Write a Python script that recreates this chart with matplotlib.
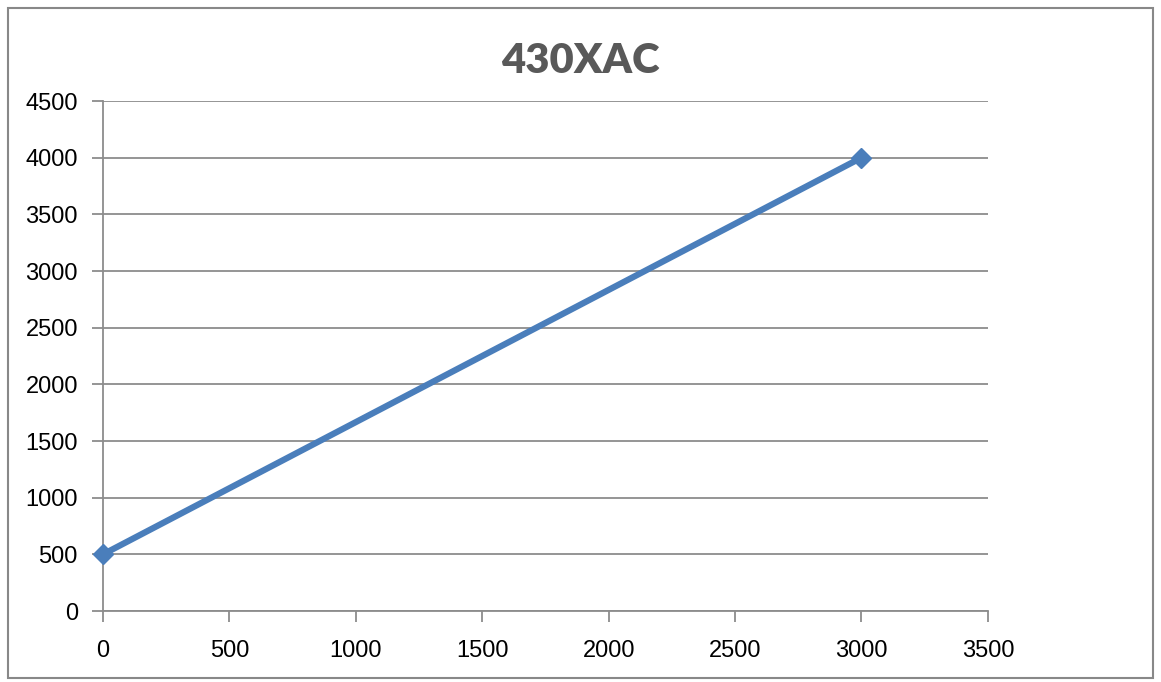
import matplotlib
matplotlib.use('Agg')
import matplotlib.pyplot as plt
from matplotlib.patches import Rectangle

x_vals = [0, 3000]
y_vals = [500, 4000]
x_ticks = [0, 500, 1000, 1500, 2000, 2500, 3000, 3500]
y_ticks = [0, 500, 1000, 1500, 2000, 2500, 3000, 3500, 4000, 4500]

plt.rcParams['font.family'] = ['Liberation Sans', 'DejaVu Sans']

fig = plt.figure(figsize=(11.61, 6.82), dpi=100)
ax = fig.add_axes([0.0887, 0.1041, 0.7622, 0.7478])

# outer frame of the chart
fig.patches.append(Rectangle((0.007, 0.006), 0.986, 0.982, transform=fig.transFigure,
                             fill=False, edgecolor='#888888', linewidth=1.5))

ax.plot(x_vals, y_vals, color='#4a7ebb', linewidth=4.5, marker='D',
        markersize=10, solid_capstyle='butt', zorder=3, clip_on=False)

ax.set_xlim(0, 3500)
ax.set_ylim(0, 4500)
ax.set_xticks(x_ticks)
ax.set_yticks(y_ticks)
ax.grid(axis='y', color='#8c8c8c', linewidth=1.3)
ax.set_axisbelow(True)

for side in ['top', 'right']:
    ax.spines[side].set_visible(False)
for side in ['left', 'bottom']:
    ax.spines[side].set_color('#8c8c8c')
    ax.spines[side].set_linewidth(1.3)
    ax.spines[side].set_zorder(1)

ax.tick_params(axis='both', direction='out', length=8, width=1.3, color='#8c8c8c',
               labelsize=17, labelcolor='black')
ax.tick_params(axis='x', pad=13)
ax.tick_params(axis='y', pad=10)

fig.text(0.5, 0.911, '430XAC', ha='center', va='center', fontsize=30,
         fontweight='heavy', color='#595959', family=['Lato', 'DejaVu Sans'])

fig.savefig('out.png', dpi=100)
